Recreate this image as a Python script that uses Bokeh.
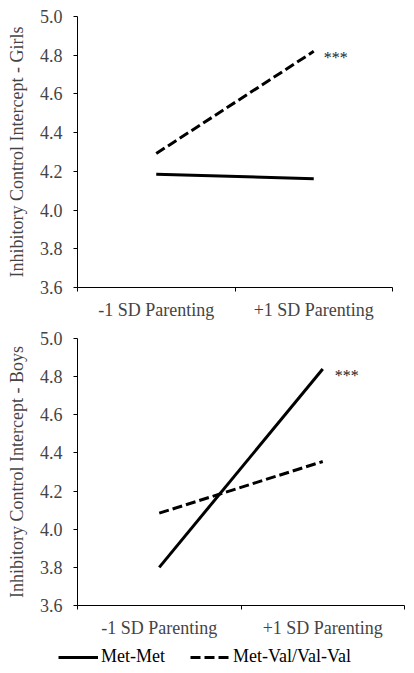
from bokeh.plotting import figure
from bokeh.models import Range1d, FixedTicker, PrintfTickFormatter, Legend, LegendItem
from bokeh.layouts import column
from bokeh.embed import file_html
from bokeh.resources import INLINE
from bokeh.core.properties import value

categories = ["-1 SD Parenting", "+1 SD Parenting"]
y_ticks = [3.6, 3.8, 4.0, 4.2, 4.4, 4.6, 4.8, 5.0]
series_names = ["Met-Met", "Met-Val/Val-Val"]
girls_met_met = [4.185, 4.162]
girls_met_val = [4.292, 4.82]
boys_met_met = [3.80, 4.84]
boys_met_val = [4.084, 4.355]
sig_label = "***"

FONT = "Liberation Serif"
FS = "18px"
SOLID = dict(line_color="black", line_width=3)
DASHED = dict(line_color="black", line_width=3, line_dash="10 4")
x_pos = [i + 0.5 for i in range(len(categories))]


def make_panel(title, met_met, met_val, sig_series, fw, fh, left, top, bottom, sig_off):
    p = figure(output_backend="svg", toolbar_location=None,
               frame_width=fw, frame_height=fh,
               min_border_left=left, min_border_top=top, min_border_right=4,
               min_border_bottom=bottom,
               x_range=Range1d(0, len(categories)), y_range=Range1d(y_ticks[0], y_ticks[-1]))
    p.outline_line_color = None
    p.xgrid.visible = False
    p.ygrid.visible = False

    p.line(x_pos, met_met, **SOLID)
    p.line(x_pos, met_val, **DASHED)

    p.text(x=[x_pos[-1]], y=[sig_series[-1]], text=[sig_label], text_font=value(FONT),
           text_font_size="16px", text_baseline="middle", text_align="left",
           x_offset=sig_off, y_offset=6, text_color="#222222")

    ya = p.yaxis[0]
    ya.ticker = FixedTicker(ticks=y_ticks)
    ya.formatter = PrintfTickFormatter(format="%.1f")
    ya.axis_label = title
    ya.axis_label_text_font = FONT
    ya.axis_label_text_font_style = "normal"
    ya.axis_label_text_font_size = FS
    ya.axis_label_standoff = 10
    ya.major_label_text_font = FONT
    ya.major_label_text_font_size = FS
    ya.major_label_standoff = 11
    ya.major_tick_out = 4
    ya.major_tick_in = 0
    ya.minor_tick_out = 0
    ya.minor_tick_in = 0
    ya.axis_line_color = "black"
    ya.major_tick_line_color = "black"

    xa = p.xaxis[0]
    xa.ticker = FixedTicker(ticks=x_pos, minor_ticks=list(range(len(categories) + 1)))
    xa.major_label_overrides = {x: c for x, c in zip(x_pos, categories)}
    xa.major_label_text_font = FONT
    xa.major_label_text_font_size = FS
    xa.major_label_standoff = 8
    xa.major_tick_out = 0
    xa.major_tick_in = 0
    xa.minor_tick_out = 4
    xa.minor_tick_in = 0
    xa.minor_tick_line_color = "black"
    xa.axis_line_color = "black"
    return p


p1 = make_panel("Inhibitory Control Intercept - Girls", girls_met_met, girls_met_val, girls_met_val,
                315, 271, 73, 16, 43, 10)
p2 = make_panel("Inhibitory Control Intercept - Boys", boys_met_met, boys_met_val, boys_met_met,
                327, 267, 77, 8, 36, 12)

# legend strip below the lower panel (series drawn outside its visible range, legend only)
p3 = figure(output_backend="svg", toolbar_location=None, frame_width=410, frame_height=32,
            min_border_left=0, min_border_right=0, min_border_top=0, min_border_bottom=0,
            x_range=Range1d(0, len(categories)), y_range=Range1d(0, 1))
p3.xaxis.visible = False
p3.yaxis.visible = False
p3.outline_line_color = None
p3.xgrid.visible = False
p3.ygrid.visible = False
k1 = p3.line(x_pos, boys_met_met, **SOLID)
k2 = p3.line(x_pos, boys_met_val, **DASHED)
lg = Legend(items=[LegendItem(label=series_names[0], renderers=[k1]),
                   LegendItem(label=series_names[1], renderers=[k2])],
            orientation="horizontal", location=(58, 6),
            glyph_width=40, glyph_height=20, label_height=20,
            label_standoff=3, spacing=25, padding=2, margin=0,
            border_line_color=None, background_fill_alpha=0)
lg.label_text_font = FONT
lg.label_text_font_style = "normal"
lg.label_text_font_size = FS
lg.label_text_color = "black"
p3.add_layout(lg)

layout = column(p1, p2, p3, spacing=0)
open("out.html", "w").write(file_html(layout, INLINE))
